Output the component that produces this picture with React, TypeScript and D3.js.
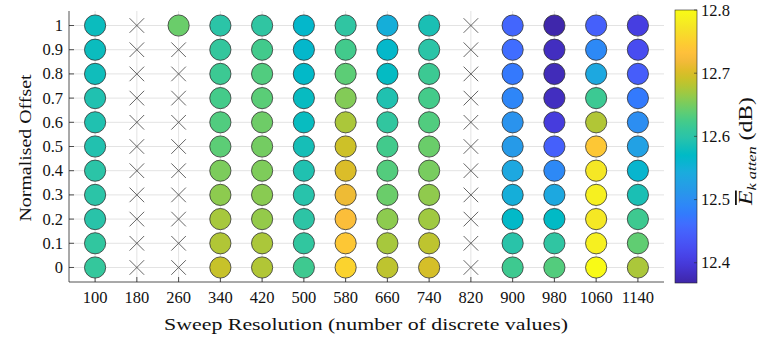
import React from "react";
import * as d3 from "d3";

const resolutions = [100, 180, 260, 340, 420, 500, 580, 660, 740, 820, 900, 980, 1060, 1140];
const offsets = [0, 0.1, 0.2, 0.3, 0.4, 0.5, 0.6, 0.7, 0.8, 0.9, 1];
const offsetLabels = ["0", "0.1", "0.2", "0.3", "0.4", "0.5", "0.6", "0.7", "0.8", "0.9", "1"];
const cbTicks = [12.4, 12.5, 12.6, 12.7, 12.8];

// mean attenuation per resolution, offsets 0 -> 1 (null = no result, drawn as a cross)
const eAtten: (number | null)[][] = [
  [12.61, 12.607, 12.598, 12.6, 12.6, 12.593, 12.592, 12.592, 12.581, 12.578, 12.578],
  [null, null, null, null, null, null, null, null, null, null, null],
  [null, null, null, null, null, null, null, null, null, null, 12.644],
  [12.69, 12.678, 12.673, 12.661, 12.653, 12.637, 12.631, 12.624, 12.617, 12.609, 12.6],
  [12.678, 12.675, 12.664, 12.659, 12.654, 12.649, 12.646, 12.636, 12.631, 12.622, 12.605],
  [12.619, 12.607, 12.602, 12.597, 12.592, 12.585, 12.576, 12.575, 12.568, 12.565, 12.565],
  [12.754, 12.741, 12.729, 12.715, 12.702, 12.693, 12.675, 12.656, 12.637, 12.622, 12.605],
  [12.685, 12.673, 12.661, 12.644, 12.632, 12.622, 12.607, 12.592, 12.573, 12.566, 12.548],
  [12.698, 12.685, 12.67, 12.662, 12.651, 12.644, 12.631, 12.624, 12.617, 12.6, 12.588],
  [null, null, null, null, null, null, null, null, null, null, null],
  [12.619, 12.598, 12.568, 12.548, 12.537, 12.517, 12.507, 12.49, 12.475, 12.461, 12.453],
  [12.632, 12.605, 12.571, 12.537, 12.493, 12.446, 12.402, 12.382, 12.378, 12.382, 12.37],
  [12.798, 12.785, 12.776, 12.785, 12.775, 12.741, 12.678, 12.617, 12.537, 12.493, 12.446],
  [12.675, 12.639, 12.619, 12.588, 12.561, 12.527, 12.5, 12.476, 12.443, 12.422, 12.405],
];

// parula, every 8th entry of the 256 table
const parula = [
  [0.2422, 0.1504, 0.6603], [0.2576, 0.1814, 0.7501], [0.2704, 0.2138, 0.8346], [0.2781, 0.2543, 0.8973],
  [0.2813, 0.2985, 0.9397], [0.2798, 0.3421, 0.9702], [0.271, 0.386, 0.9898], [0.2473, 0.4319, 0.9983],
  [0.2006, 0.4803, 0.9906], [0.1795, 0.5244, 0.9709], [0.1716, 0.5655, 0.9393], [0.1475, 0.6043, 0.9113],
  [0.1288, 0.6408, 0.891], [0.1009, 0.675, 0.8653], [0.0433, 0.7039, 0.8242], [0.0018, 0.7275, 0.7752],
  [0.077, 0.7468, 0.7224], [0.1609, 0.7635, 0.6671], [0.2061, 0.7808, 0.6065], [0.2695, 0.7951, 0.536],
  [0.3671, 0.8021, 0.4563], [0.4753, 0.8011, 0.3691], [0.5886, 0.7913, 0.2833], [0.6963, 0.775, 0.2075],
  [0.7945, 0.7554, 0.157], [0.8804, 0.7372, 0.165], [0.9523, 0.7284, 0.2237], [0.9971, 0.7513, 0.2309],
  [0.9938, 0.7974, 0.1974], [0.9748, 0.8467, 0.1726], [0.9601, 0.8963, 0.1507], [0.9642, 0.9437, 0.1216],
  [0.9769, 0.9839, 0.0805],
].map(([r, g, b]) => d3.rgb(r * 255, g * 255, b * 255).formatHex());

const W = 759;
const H = 338;
const cMin = 12.368;
const cMax = 12.8;
const font = "Liberation Serif, DejaVu Serif, Times New Roman, serif";
const ink = "#262626";

export default function App() {
  const x = d3.scaleLinear().domain([50, 1190]).range([69, 664]);
  const y = d3.scaleLinear().domain([-0.06, 1.06]).range([282, 11]);
  const color = d3.scaleSequential(d3.piecewise(d3.interpolateRgb, parula)).domain([cMin, cMax]);
  const cb = d3.scaleLinear().domain([cMin, cMax]).range([283, 10]);
  const cbX = 675;
  const cbW = 22;
  const r = 10.6;
  const cr = 7.3;

  return (
    <svg width={W} height={H} style={{ position: "absolute", left: 0, top: 0, background: "#fff", fontFamily: font }}>
      <defs>
        <linearGradient id="parula" x1="0" y1="1" x2="0" y2="0">
          {parula.map((c, i) => (
            <stop key={i} offset={i / (parula.length - 1)} stopColor={c} />
          ))}
        </linearGradient>
      </defs>

      {/* grid */}
      <g stroke="#e3e3e3" strokeWidth={1}>
        {resolutions.map((v) => (
          <line key={v} x1={x(v)} x2={x(v)} y1={y.range()[0]} y2={y.range()[1]} />
        ))}
        {offsets.map((o) => (
          <line key={o} x1={x.range()[0]} x2={x.range()[1]} y1={y(o)} y2={y(o)} />
        ))}
      </g>

      {/* axes */}
      <g stroke={ink} strokeWidth={0.8}>
        <line x1={69} x2={69} y1={11} y2={282} />
        <line x1={69} x2={664} y1={282} y2={282} />
        {resolutions.map((v) => (
          <line key={v} x1={x(v)} x2={x(v)} y1={282} y2={277} />
        ))}
        {offsets.map((o) => (
          <line key={o} x1={69} x2={74} y1={y(o)} y2={y(o)} />
        ))}
      </g>

      {/* marks */}
      {resolutions.map((res, i) =>
        offsets.map((o, j) => {
          const v = eAtten[i][j];
          const cx = x(res);
          const cy = y(o);
          if (v === null) {
            return (
              <g key={`${res}-${o}`} stroke="#555" strokeWidth={0.9}>
                <line x1={cx - cr} x2={cx + cr} y1={cy - cr} y2={cy + cr} />
                <line x1={cx - cr} x2={cx + cr} y1={cy + cr} y2={cy - cr} />
              </g>
            );
          }
          return <circle key={`${res}-${o}`} cx={cx} cy={cy} r={r} fill={color(v)} stroke="#333" strokeWidth={0.8} />;
        })
      )}

      {/* tick labels */}
      <g fontSize={16.5} fill="#111">
        {resolutions.map((v) => (
          <text key={v} x={x(v)} y={303} textAnchor="middle">
            {v}
          </text>
        ))}
        {offsets.map((o, j) => (
          <text key={o} x={63} y={y(o) + 5.5} textAnchor="end">
            {offsetLabels[j]}
          </text>
        ))}
      </g>

      <text x={366} y={330} textAnchor="middle" fontSize={17.5} fill="#111" textLength={404} lengthAdjust="spacingAndGlyphs">
        Sweep Resolution (number of discrete values)
      </text>
      <text
        transform={`translate(31,148) rotate(-90)`}
        textAnchor="middle"
        fontSize={17.5}
        fill="#111"
        textLength={147}
        lengthAdjust="spacingAndGlyphs"
      >
        Normalised Offset
      </text>

      {/* colorbar */}
      <rect x={cbX} y={cb(cMax)} width={cbW} height={cb(cMin) - cb(cMax)} fill="url(#parula)" stroke={ink} strokeWidth={0.6} />
      <g stroke={ink} strokeWidth={0.6}>
        {cbTicks.map((t) => (
          <line key={t} x1={cbX + cbW - 3} x2={cbX + cbW} y1={cb(t)} y2={cb(t)} />
        ))}
      </g>
      <g fontSize={16.5} fill="#111">
        {cbTicks.map((t) => (
          <text key={t} x={701} y={cb(t) + 5.5}>
            {t.toFixed(1)}
          </text>
        ))}
      </g>
      <text
        transform="translate(752,151) rotate(-90)"
        textAnchor="middle"
        fontSize={18}
        fill="#111"
        textLength={108}
        lengthAdjust="spacingAndGlyphs"
      >
        <tspan fontStyle="italic" style={{ textDecoration: "overline" }}>E</tspan>
        <tspan fontStyle="italic" fontSize={12.5} dy={4}>k atten</tspan>
        <tspan dy={-4}> (dB)</tspan>
      </text>
    </svg>
  );
}
